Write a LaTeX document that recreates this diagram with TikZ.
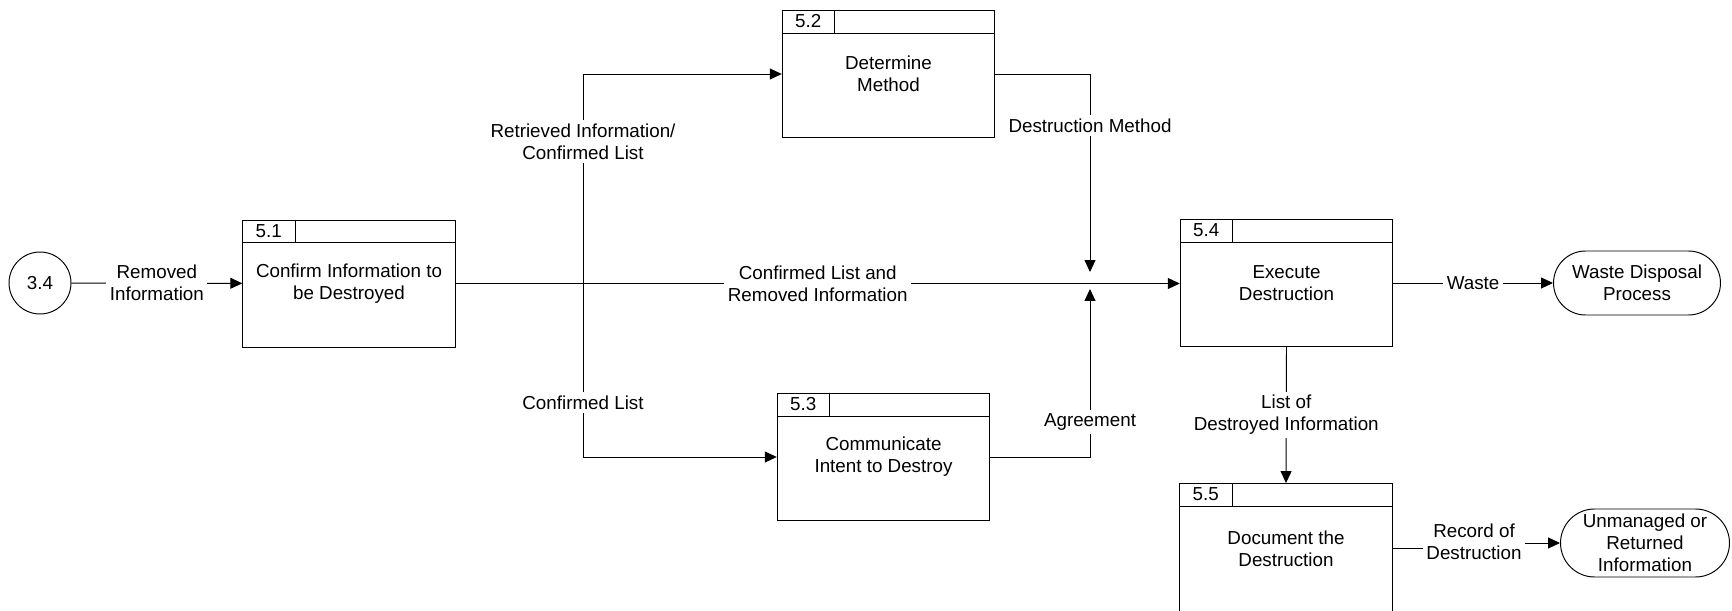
\documentclass[tikz,border=0pt]{standalone}
\usepackage{fontspec}
\setmainfont{Liberation Sans}
\usetikzlibrary{arrows.meta,shapes.misc}

\tikzset{
  every node/.style={font=\fontsize{10.7pt}{12.5pt}\selectfont},
  procbox/.style={draw, line width=0.55pt, minimum width=4.25cm, minimum height=2.54cm, inner sep=0pt, align=center},
  ext/.style={draw, line width=0.55pt, rounded rectangle, inner sep=0pt, align=center},
  flow/.style={line width=0.55pt, -{Triangle[length=0.24cm,width=0.22cm]}},
  plain/.style={line width=0.55pt},
  lbl/.style={fill=white, inner sep=2pt, align=center}
}

% header strip of a process box: number cell on the left
\newcommand{\prochead}[2]{%
  \draw[plain] ([yshift=-0.46cm]#1.north west) -- ([yshift=-0.46cm]#1.north east);
  \draw[plain] ([xshift=1.06cm]#1.north west) -- ([xshift=1.06cm,yshift=-0.46cm]#1.north west);
  \node (#1n) at ([xshift=0.53cm,yshift=-0.23cm]#1.north west) {#2};
}

\begin{document}
\begin{tikzpicture}[x=0.02cm, y=-0.02cm]
\useasboundingbox (0,0) rectangle (1732,611);

% external entities
\node [draw, line width=0.55pt, circle, minimum size=1.24cm, inner sep=0pt] (c34) at (40,283) {3.4};
\node [ext, minimum width=3.34cm, minimum height=1.28cm] (waste) at (1637,283) {Waste Disposal\\Process};
\node [ext, minimum width=3.38cm, minimum height=1.36cm] (unman) at (1645,543) {Unmanaged or\\Returned\\Information};

% processes
\node [procbox] (p1) at (349,283.5) {Confirm Information to\\be Destroyed};
\node [procbox] (p2) at (888.5,74) {Determine\\Method};
\node [procbox] (p3) at (883.5,457) {Communicate\\Intent to Destroy};
\node [procbox] (p4) at (1286.5,283) {Execute\\Destruction};
\node [procbox, minimum height=2.62cm] (p5) at (1286,549) {Document the\\Destruction};

\prochead{p1}{5.1}
\prochead{p2}{5.2}
\prochead{p3}{5.3}
\prochead{p4}{5.4}
\prochead{p5}{5.5}

% branch point and meeting points
\coordinate (j) at (583,283.5);
\coordinate (mt) at (1090,272);
\coordinate (mb) at (1090,289);

% flows
\draw [flow] (c34) -- (p1) node [lbl, midway] {Removed\\Information};
\draw [flow] (p1.east) -- (p1.east -| p4.west) node [lbl, midway] {Confirmed List and\\Removed Information};
\draw [flow] (j) |- (p2.west) node [lbl, pos=0.338] {Retrieved Information/\\Confirmed List};
\draw [flow] (j) |- (p3.west) node [lbl, pos=0.344] {Confirmed List};
\draw [flow] (p2.east) -| (mt) node [lbl, pos=0.63] {Destruction Method};
\draw [flow] (p3.east) -| (mb) node [lbl, pos=0.604] {Agreement};
\draw [flow] (p4.east) -- (waste.west) node [lbl, midway] {Waste};
\draw [flow] (p4.south) -- (p5.north) node [lbl, midway] {List of\\Destroyed Information};

\node [lbl] (rec) at (1474,542) {Record of\\Destruction};
\draw [plain] (p5.east |- 0,548) -- (rec.west |- 0,548);
\draw [flow] (rec.east |- unman.west) -- (unman.west);

\end{tikzpicture}
\end{document}
